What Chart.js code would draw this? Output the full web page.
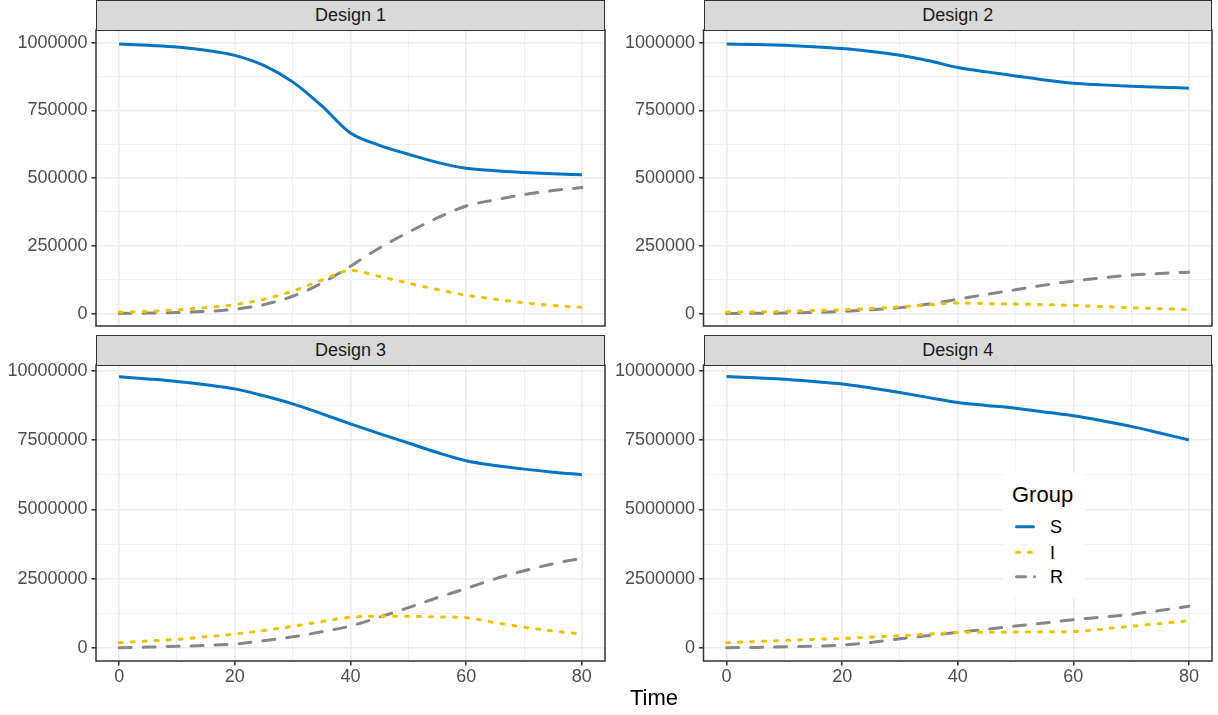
<!DOCTYPE html>
<html>
<head>
<meta charset="utf-8">
<script src="https://cdn.jsdelivr.net/npm/chart.js@4.4.1/dist/chart.umd.min.js"></script>
<style>
html,body{margin:0;padding:0;background:#fff;width:1218px;height:715px;overflow:hidden;font-family:"Liberation Sans",Arial,sans-serif;}
.cv{position:absolute;}
.strip{position:absolute;background:#D9D9D9;border:1.5px solid #333333;box-sizing:border-box;color:#1A1A1A;font-size:18px;text-align:center;z-index:2;}
#xtitle{position:absolute;left:554px;width:200px;top:685px;text-align:center;font-size:22px;line-height:26px;color:#000;}
#legend{position:absolute;left:1003px;top:473px;z-index:3;}
</style>
</head>
<body>
<canvas id="c1" class="cv"></canvas>
<canvas id="c2" class="cv"></canvas>
<canvas id="c3" class="cv"></canvas>
<canvas id="c4" class="cv"></canvas>
<div class="strip" style="left:96px;top:0px;width:509px;height:30.75px;line-height:28px;">Design 1</div>
<div class="strip" style="left:703.5px;top:0px;width:508.5px;height:30.75px;line-height:28px;">Design 2</div>
<div class="strip" style="left:96px;top:334.5px;width:509px;height:31.25px;line-height:28px;">Design 3</div>
<div class="strip" style="left:703.5px;top:334.5px;width:508.5px;height:31.25px;line-height:28px;">Design 4</div>
<div id="xtitle">Time</div>
<svg id="legend" width="82" height="125" xmlns="http://www.w3.org/2000/svg">
  <rect x="0" y="0" width="82" height="125" fill="#ffffff"/>
  <text x="9" y="29" font-family="Liberation Sans, Arial, sans-serif" font-size="22" fill="#000">Group</text>
  <line x1="13.5" y1="53.7" x2="30.5" y2="53.7" stroke="#0073C2" stroke-width="3" stroke-linecap="round"/>
  <line x1="13.5" y1="79.3" x2="30.5" y2="79.3" stroke="#EFC000" stroke-width="3" stroke-linecap="round" stroke-dasharray="3 9"/>
  <line x1="13.5" y1="103.7" x2="31.6" y2="103.7" stroke="#868686" stroke-width="3" stroke-linecap="round" stroke-dasharray="9 9"/>
  <text x="47" y="60.1" font-family="Liberation Sans, Arial, sans-serif" font-size="18" fill="#000">S</text>
  <text x="47" y="85.7" font-family="Liberation Sans, Arial, sans-serif" font-size="18" fill="#000">I</text>
  <text x="47" y="110.1" font-family="Liberation Sans, Arial, sans-serif" font-size="18" fill="#000">R</text>
</svg>
<script>
// ---------------- data ----------------
const time = [0, 5, 10, 15, 20, 25, 30, 35, 40, 45, 50, 55, 60, 65, 70, 75, 80];

const design1S = [995000, 990000, 984000, 972000, 953000, 916000, 855000, 767000, 666000, 621000, 588000, 558000, 536000, 527000, 521000, 516000, 512000];
const design1I = [5000, 8000, 14000, 22000, 33000, 53000, 83000, 123000, 159000, 137000, 112000, 89000, 68000, 53000, 40000, 30000, 23000];
const design1R = [0, 2000, 4000, 8000, 16000, 33000, 64000, 112000, 175000, 242000, 300000, 353000, 397000, 420000, 439000, 454000, 465000];

const design2S = [995000, 993000, 990000, 985000, 978000, 967000, 953000, 933000, 908000, 892000, 877000, 862000, 850000, 844000, 839000, 835000, 832000];
const design2I = [5000, 6000, 8000, 11000, 14000, 19000, 25000, 32000, 39000, 37000, 35000, 33000, 30000, 26000, 22000, 18000, 15000];
const design2R = [0, 1000, 2000, 4000, 8000, 14000, 22000, 35000, 53000, 71000, 88000, 105000, 120000, 132000, 142000, 148000, 153000];

const design3S = [9780000, 9700000, 9610000, 9490000, 9340000, 9090000, 8800000, 8450000, 8080000, 7730000, 7390000, 7050000, 6750000, 6580000, 6450000, 6340000, 6250000];
const design3I = [200000, 260000, 320000, 410000, 510000, 640000, 790000, 960000, 1120000, 1150000, 1150000, 1130000, 1100000, 920000, 760000, 620000, 510000];
const design3R = [20000, 40000, 70000, 100000, 150000, 270000, 410000, 590000, 800000, 1120000, 1460000, 1820000, 2150000, 2500000, 2790000, 3040000, 3240000];

const design4S = [9784000, 9737000, 9687000, 9605000, 9518000, 9370000, 9207000, 9025000, 8847000, 8745000, 8642000, 8510000, 8370000, 8190000, 7990000, 7750000, 7500000];
const design4I = [200000, 240000, 280000, 320000, 350000, 400000, 450000, 510000, 570000, 575000, 580000, 590000, 600000, 690000, 790000, 890000, 990000];
const design4R = [20000, 30000, 50000, 70000, 110000, 210000, 340000, 460000, 570000, 685000, 800000, 910000, 1030000, 1120000, 1220000, 1360000, 1510000];

const groups = ['S', 'I', 'R'];
const xMajorTicks = [0, 20, 40, 60, 80];
const xMinorTicks = [10, 30, 50, 70];
const yMajorTicksSmall = [0, 250000, 500000, 750000, 1000000];
const yMinorTicksSmall = [125000, 375000, 625000, 875000];
const yMajorTicksLarge = [0, 2500000, 5000000, 7500000, 10000000];
const yMinorTicksLarge = [1250000, 3750000, 6250000, 8750000];

// ---------------- styles ----------------
const groupColors = ['#0073C2', '#EFC000', '#868686'];
const groupDash = [[], [3, 9], [12, 12]];
Chart.defaults.font.family = '"Liberation Sans", Arial, sans-serif';

const panelBorder = {
  id: 'panelBorder',
  afterDraw(chart) {
    const a = chart.chartArea, ctx = chart.ctx;
    ctx.save();
    ctx.strokeStyle = '#333333';
    ctx.lineWidth = 1.5;
    ctx.strokeRect(a.left, a.top, a.right - a.left, a.bottom - a.top);
    ctx.restore();
  }
};

function makePanel(cfg) {
  const cv = document.getElementById(cfg.id);
  cv.width = cfg.W; cv.height = cfg.H;
  cv.style.left = cfg.L + 'px'; cv.style.top = cfg.T + 'px';
  cv.style.width = cfg.W + 'px'; cv.style.height = cfg.H + 'px';
  const yMajor = cfg.yMajor, yMinor = cfg.yMinor;
  const yAll = yMajor.concat(yMinor).sort((a, b) => a - b);
  const xAll = xMajorTicks.concat(xMinorTicks).sort((a, b) => a - b);
  const isYMajor = v => yMajor.includes(v);
  const isXMajor = v => xMajorTicks.includes(v);
  const datasets = groups.map((g, k) => ({
    label: g,
    data: time.map((t, i) => ({ x: t, y: cfg.series[k][i] })),
    borderColor: groupColors[k],
    borderDash: groupDash[k],
    borderWidth: 3,
    borderCapStyle: k === 0 ? 'butt' : 'round',
    borderJoinStyle: 'round',
    pointRadius: 0,
    fill: false,
    cubicInterpolationMode: 'monotone'
  }));
  return new Chart(cv, {
    type: 'line',
    data: { datasets },
    options: {
      responsive: false,
      animation: false,
      devicePixelRatio: 1,
      layout: { autoPadding: false, padding: cfg.pad },
      plugins: { legend: { display: false }, tooltip: { enabled: false } },
      scales: {
        x: {
          type: 'linear', min: -4, max: 84,
          afterBuildTicks: s => { s.ticks = xAll.map(v => ({ value: v })); },
          afterFit: s => { s.height = cfg.xH; s.paddingLeft = 0; s.paddingRight = 0; },
          border: { display: false },
          grid: {
            color: '#EBEBEB',
            lineWidth: c => (c.tick && isXMajor(c.tick.value)) ? 1.6 : 0.8,
            drawTicks: cfg.showX,
            tickLength: 4.5,
            tickWidth: 1.5,
            tickColor: c => (c.tick && isXMajor(c.tick.value)) ? '#333333' : 'rgba(0,0,0,0)'
          },
          ticks: {
            display: cfg.showX,
            autoSkip: false, maxRotation: 0,
            padding: 1,
            color: '#4D4D4D',
            font: { size: 18 },
            callback: v => isXMajor(v) ? String(v) : ''
          }
        },
        y: {
          type: 'linear', min: cfg.yMin, max: cfg.yMax,
          afterBuildTicks: s => { s.ticks = yAll.map(v => ({ value: v })); },
          afterFit: s => { s.width = cfg.yW; s.paddingTop = 0; s.paddingBottom = 0; },
          border: { display: false },
          grid: {
            color: '#EBEBEB',
            lineWidth: c => (c.tick && isYMajor(c.tick.value)) ? 1.6 : 0.8,
            drawTicks: true,
            tickLength: 4.5,
            tickWidth: 1.5,
            tickColor: c => (c.tick && isYMajor(c.tick.value)) ? '#333333' : 'rgba(0,0,0,0)'
          },
          ticks: {
            autoSkip: false,
            padding: 4,
            color: '#4D4D4D',
            font: { size: 18 },
            callback: v => isYMajor(v) ? String(v) : ''
          }
        }
      }
    },
    plugins: [panelBorder]
  });
}

const topPad = { top: 10, right: 10, bottom: 10, left: 0 };
const botPad = { top: 10, right: 10, bottom: 0, left: 0 };

makePanel({ id: 'c1', L: 0, T: 20, W: 615, H: 316, yW: 96, xH: 0, pad: topPad, showX: false,
  yMin: -45800, yMax: 1046500, yMajor: yMajorTicksSmall, yMinor: yMinorTicksSmall,
  series: [design1S, design1I, design1R] });
makePanel({ id: 'c2', L: 608, T: 20, W: 614, H: 316, yW: 95.5, xH: 0, pad: topPad, showX: false,
  yMin: -45800, yMax: 1046500, yMajor: yMajorTicksSmall, yMinor: yMinorTicksSmall,
  series: [design2S, design2I, design2R] });
makePanel({ id: 'c3', L: 0, T: 355, W: 615, H: 346, yW: 96, xH: 40, pad: botPad, showX: true,
  yMin: -460000, yMax: 10200000, yMajor: yMajorTicksLarge, yMinor: yMinorTicksLarge,
  series: [design3S, design3I, design3R] });
makePanel({ id: 'c4', L: 608, T: 355, W: 614, H: 346, yW: 95.5, xH: 40, pad: botPad, showX: true,
  yMin: -460000, yMax: 10200000, yMajor: yMajorTicksLarge, yMinor: yMinorTicksLarge,
  series: [design4S, design4I, design4R] });
</script>
</body>
</html>
